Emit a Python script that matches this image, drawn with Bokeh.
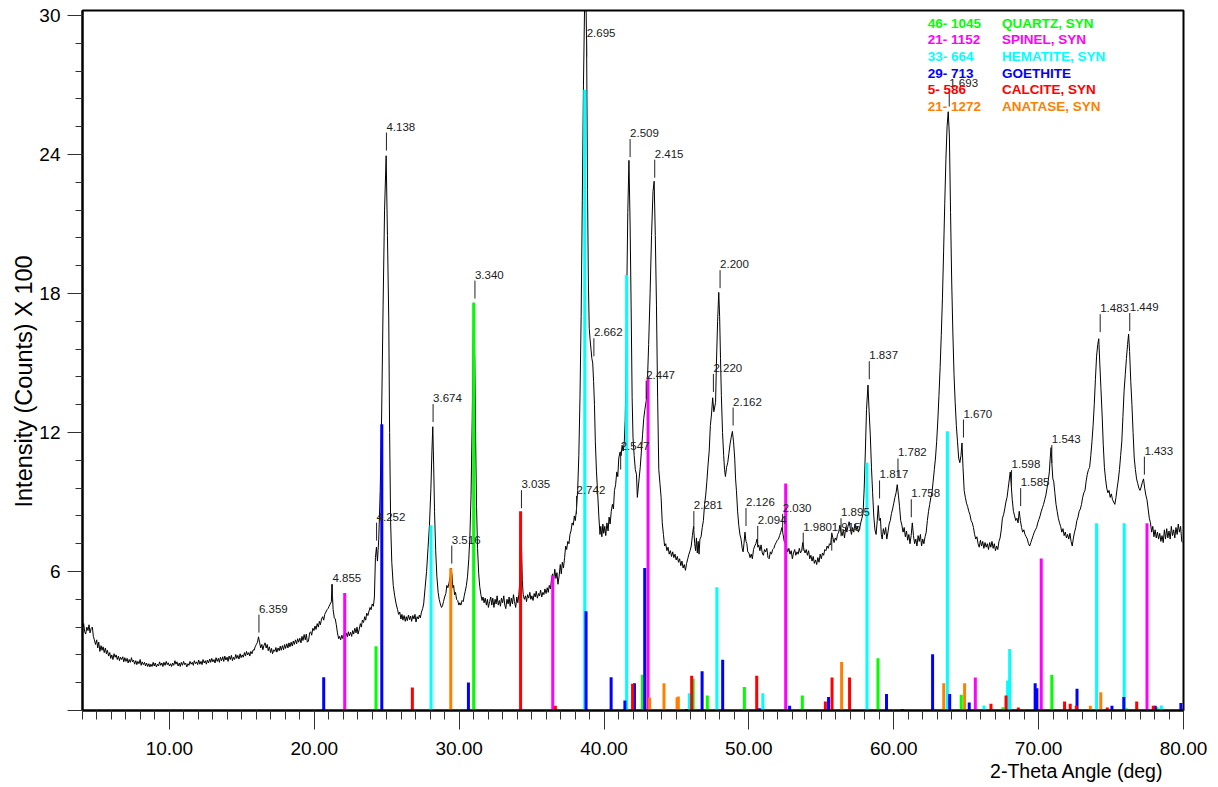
import math
from bokeh.plotting import figure
from bokeh.models import FixedTicker, PrintfTickFormatter, Title
from bokeh.core.properties import value
from bokeh.embed import file_html
from bokeh.resources import INLINE

FONT = "Liberation Sans"

# ---------------- measured pattern (2-theta, counts x100) ----------------
two_theta = [
 4.00,4.08,4.15,4.22,4.30,4.38,4.45,4.52,4.60,4.68,4.75,4.82,4.90,4.98,5.05,5.12,5.20,5.28,5.35,5.42,
 5.50,5.58,5.65,5.72,5.80,5.88,5.95,6.02,6.10,6.18,6.25,6.32,6.40,6.48,6.55,6.62,6.70,6.78,6.85,6.92,
 7.00,7.08,7.15,7.22,7.30,7.38,7.45,7.52,7.60,7.68,7.75,7.82,7.90,7.98,8.05,8.12,8.20,8.28,8.35,8.42,
 8.50,8.58,8.65,8.72,8.80,8.88,8.95,9.02,9.10,9.18,9.25,9.32,9.40,9.48,9.55,9.62,9.70,9.78,9.85,9.92,
 10.00,10.08,10.15,10.22,10.30,10.38,10.45,10.52,10.60,10.68,10.75,10.82,10.90,10.98,11.05,11.12,11.20,11.28,11.35,11.42,
 11.50,11.58,11.65,11.72,11.80,11.88,11.95,12.02,12.10,12.18,12.25,12.32,12.40,12.48,12.55,12.62,12.70,12.78,12.85,12.92,
 13.00,13.08,13.15,13.22,13.30,13.38,13.45,13.52,13.60,13.68,13.75,13.82,13.90,13.98,14.05,14.12,14.20,14.28,14.35,14.42,
 14.50,14.58,14.65,14.72,14.80,14.88,14.95,15.02,15.10,15.18,15.25,15.32,15.40,15.48,15.55,15.62,15.70,15.78,15.85,15.92,
 16.00,16.08,16.15,16.22,16.30,16.38,16.45,16.52,16.60,16.68,16.75,16.82,16.90,16.98,17.05,17.12,17.20,17.28,17.35,17.42,
 17.50,17.58,17.65,17.72,17.80,17.88,17.95,18.02,18.10,18.18,18.25,18.32,18.40,18.48,18.55,18.62,18.70,18.78,18.85,18.92,
 19.00,19.08,19.15,19.22,19.30,19.38,19.45,19.52,19.60,19.68,19.75,19.82,19.90,19.98,20.05,20.12,20.20,20.28,20.35,20.42,
 20.50,20.58,20.65,20.72,20.80,20.88,20.95,21.02,21.10,21.18,21.22,21.26,21.30,21.38,21.45,21.52,21.60,21.68,21.75,21.82,
 21.90,21.98,22.05,22.12,22.20,22.28,22.35,22.42,22.50,22.58,22.65,22.72,22.80,22.88,22.95,23.02,23.10,23.18,23.25,23.32,
 23.40,23.48,23.55,23.62,23.70,23.78,23.85,23.92,24.00,24.08,24.15,24.22,24.29,24.36,24.45,24.55,24.65,24.75,24.85,24.96,
 25.05,25.14,25.20,25.27,25.35,25.45,25.55,25.65,25.75,25.82,25.90,25.98,26.05,26.12,26.20,26.28,26.35,26.42,26.50,26.58,
 26.65,26.72,26.80,26.88,26.95,27.02,27.10,27.18,27.25,27.32,27.40,27.48,27.55,27.65,27.75,27.85,27.95,28.05,28.12,28.18,
 28.24,28.30,28.38,28.46,28.55,28.62,28.70,28.78,28.85,28.92,29.00,29.08,29.15,29.22,29.30,29.38,29.44,29.50,29.56,29.62,
 29.68,29.75,29.82,29.90,29.98,30.05,30.12,30.20,30.28,30.35,30.42,30.50,30.58,30.66,30.74,30.82,30.90,30.96,31.02,31.08,
 31.14,31.20,31.27,31.35,31.42,31.50,31.58,31.65,31.72,31.80,31.88,31.95,32.02,32.10,32.18,32.25,32.32,32.40,32.48,32.55,
 32.62,32.70,32.78,32.85,32.92,33.00,33.08,33.15,33.22,33.30,33.38,33.45,33.52,33.60,33.68,33.75,33.82,33.90,33.98,34.05,
 34.12,34.18,34.24,34.30,34.36,34.42,34.50,34.58,34.65,34.72,34.80,34.88,34.95,35.02,35.10,35.18,35.25,35.32,35.40,35.48,
 35.55,35.62,35.70,35.78,35.85,35.92,36.00,36.08,36.15,36.22,36.30,36.38,36.45,36.52,36.60,36.68,36.75,36.82,36.90,36.98,
 37.05,37.12,37.20,37.28,37.35,37.42,37.50,37.58,37.65,37.72,37.80,37.88,37.95,38.02,38.10,38.18,38.26,38.34,38.42,38.50,
 38.58,38.66,38.74,38.80,38.86,38.92,38.98,39.04,39.10,39.16,39.22,39.28,39.34,39.40,39.48,39.56,39.64,39.72,39.78,39.85,
 39.92,39.98,40.05,40.12,40.20,40.28,40.35,40.42,40.50,40.58,40.65,40.72,40.80,40.88,40.95,41.02,41.10,41.18,41.25,41.32,
 41.40,41.46,41.52,41.58,41.64,41.72,41.80,41.87,41.94,42.00,42.08,42.16,42.24,42.30,42.36,42.42,42.50,42.58,42.66,42.74,
 42.82,42.92,43.00,43.08,43.18,43.28,43.38,43.46,43.54,43.62,43.70,43.78,43.86,43.94,44.02,44.10,44.18,44.26,44.34,44.42,
 44.50,44.58,44.66,44.74,44.82,44.90,44.98,45.06,45.14,45.22,45.30,45.38,45.46,45.54,45.62,45.70,45.78,45.86,45.94,46.02,
 46.10,46.18,46.26,46.32,46.38,46.44,46.50,46.56,46.62,46.70,46.78,46.86,46.94,47.02,47.10,47.18,47.26,47.34,47.42,47.50,
 47.58,47.64,47.70,47.76,47.84,47.92,47.98,48.04,48.10,48.18,48.26,48.32,48.38,48.46,48.54,48.62,48.70,48.78,48.86,48.94,
 49.02,49.08,49.14,49.22,49.30,49.38,49.46,49.54,49.60,49.66,49.73,49.80,49.86,49.92,50.00,50.08,50.16,50.24,50.32,50.40,
 50.48,50.56,50.62,50.68,50.76,50.84,50.92,51.00,51.08,51.16,51.24,51.32,51.40,51.48,51.56,51.64,51.72,51.80,51.88,51.96,
 52.04,52.12,52.20,52.28,52.36,52.44,52.52,52.60,52.68,52.76,52.84,52.92,53.00,53.08,53.16,53.24,53.32,53.40,53.48,53.56,
 53.64,53.72,53.80,53.88,53.96,54.04,54.12,54.20,54.28,54.36,54.44,54.52,54.60,54.68,54.76,54.84,54.92,55.00,55.08,55.16,
 55.24,55.32,55.40,55.48,55.56,55.64,55.72,55.80,55.88,55.96,56.04,56.12,56.20,56.28,56.36,56.44,56.52,56.60,56.68,56.76,
 56.84,56.92,57.00,57.08,57.16,57.24,57.32,57.40,57.48,57.56,57.64,57.72,57.80,57.88,57.96,58.04,58.12,58.22,58.30,58.38,
 58.46,58.54,58.62,58.70,58.78,58.86,58.93,59.00,59.08,59.14,59.20,59.28,59.36,59.44,59.52,59.60,59.68,59.76,59.84,59.92,
 60.00,60.08,60.16,60.24,60.32,60.40,60.48,60.56,60.64,60.72,60.80,60.88,60.96,61.04,61.12,61.20,61.28,61.36,61.44,61.52,
 61.60,61.68,61.76,61.84,61.92,62.00,62.08,62.16,62.24,62.32,62.40,62.48,62.56,62.64,62.72,62.80,62.88,62.96,63.04,63.12,
 63.20,63.28,63.36,63.44,63.52,63.60,63.68,63.76,63.84,63.92,64.00,64.08,64.16,64.24,64.32,64.40,64.48,64.56,64.64,64.71,
 64.78,64.86,64.94,65.02,65.10,65.18,65.26,65.34,65.42,65.50,65.58,65.66,65.74,65.82,65.90,65.98,66.06,66.14,66.22,66.30,
 66.38,66.46,66.54,66.62,66.70,66.78,66.86,66.94,67.02,67.10,67.18,67.26,67.34,67.42,67.50,67.58,67.66,67.74,67.82,67.90,
 67.98,68.04,68.10,68.18,68.26,68.34,68.42,68.50,68.58,68.66,68.74,68.82,68.90,68.98,69.06,69.14,69.22,69.30,69.38,69.46,
 69.54,69.62,69.70,69.78,69.86,69.94,70.02,70.10,70.18,70.26,70.34,70.42,70.50,70.58,70.66,70.74,70.80,70.86,70.92,70.98,
 71.04,71.12,71.20,71.28,71.36,71.44,71.52,71.60,71.68,71.76,71.84,71.92,72.00,72.08,72.16,72.24,72.32,72.40,72.48,72.56,
 72.64,72.72,72.80,72.88,72.96,73.04,73.12,73.20,73.28,73.36,73.44,73.52,73.60,73.68,73.76,73.84,73.92,74.00,74.08,74.15,
 74.22,74.30,74.38,74.46,74.54,74.62,74.70,74.78,74.86,74.94,75.02,75.10,75.18,75.26,75.34,75.42,75.50,75.58,75.66,75.74,
 75.82,75.90,75.98,76.06,76.14,76.21,76.28,76.36,76.44,76.52,76.60,76.68,76.76,76.84,76.92,77.00,77.08,77.16,77.24,77.32,
 77.40,77.48,77.56,77.64,77.72,77.80,77.88,77.96,78.04,78.12,78.20,78.28,78.36,78.44,78.52,78.60,78.68,78.76,78.84,78.92,
 79.00,79.08,79.16,79.24,79.32,79.40,79.48,79.56,79.64,79.72,79.80,79.88,79.96,
]
counts = [
 3.55,3.75,3.40,3.30,3.60,3.45,3.70,3.35,3.55,3.60,3.20,3.05,2.85,3.05,2.70,2.95,2.55,2.80,2.60,2.75,
 2.50,2.70,2.45,2.60,2.35,2.50,2.25,2.40,2.20,2.45,2.30,2.40,2.20,2.35,2.15,2.30,2.20,2.32,2.10,2.28,
 2.12,2.25,2.05,2.20,2.08,2.28,2.10,2.18,2.00,2.15,1.98,2.12,2.02,2.20,1.95,2.10,1.98,2.08,1.92,2.05,
 1.90,2.02,1.88,2.00,1.90,2.08,1.92,2.05,1.88,2.00,1.92,2.10,1.95,2.05,1.90,2.08,1.95,2.12,1.98,2.06,
 1.92,2.02,1.90,2.05,1.95,2.15,2.00,2.10,1.92,2.05,1.90,2.08,1.95,2.12,1.98,2.05,1.88,2.02,1.95,2.12,
 2.00,2.08,1.95,2.15,2.02,2.10,1.98,2.18,2.00,2.12,1.98,2.20,2.05,2.15,2.00,2.18,2.05,2.22,2.08,2.25,
 2.10,2.20,2.05,2.28,2.12,2.25,2.08,2.30,2.15,2.32,2.12,2.35,2.18,2.30,2.12,2.35,2.20,2.38,2.15,2.30,
 2.20,2.42,2.25,2.38,2.22,2.45,2.28,2.40,2.30,2.50,2.35,2.55,2.40,2.50,2.35,2.55,2.45,2.62,2.60,2.75,
 2.85,2.95,3.18,2.95,2.70,2.85,2.62,2.80,2.92,2.70,2.85,2.58,2.75,2.50,2.68,2.45,2.62,2.55,2.72,2.52,
 2.70,2.58,2.78,2.60,2.80,2.62,2.85,2.68,2.88,2.70,2.92,2.75,2.95,2.78,3.00,2.85,3.05,2.88,3.10,2.95,
 3.12,2.92,3.20,3.02,3.28,3.05,3.30,2.95,3.00,3.35,3.40,3.25,3.55,3.45,3.65,3.50,3.75,3.60,3.85,3.70,
 3.95,4.05,3.90,4.15,4.25,4.35,4.40,4.50,4.60,4.70,5.45,4.90,4.35,4.00,3.95,3.70,3.35,3.10,3.20,3.05,
 3.25,3.10,3.30,3.12,3.35,3.18,3.40,3.22,3.38,3.20,3.45,3.30,3.55,3.35,3.60,3.30,3.50,3.75,3.60,3.90,
 3.80,4.05,3.90,4.20,4.10,4.30,4.45,4.35,4.60,4.50,4.90,6.60,7.05,6.45,7.40,9.50,12.80,17.50,21.60,23.95,
 20.50,16.90,12.00,8.10,6.40,5.40,4.95,4.60,4.35,4.15,4.25,3.95,4.15,3.90,4.10,3.85,4.05,3.88,4.12,3.92,
 4.08,3.85,4.10,3.95,4.15,3.82,4.05,3.95,4.12,4.00,4.25,4.40,4.60,5.30,6.00,7.00,8.00,9.60,11.20,12.25,
 10.60,8.60,6.90,5.80,5.10,4.80,4.60,4.45,4.52,4.70,4.90,5.05,5.40,5.30,5.50,5.80,6.15,5.90,5.30,5.40,
 5.00,5.10,4.80,4.75,4.55,4.65,4.55,4.75,4.70,4.95,5.15,5.40,5.80,6.50,7.50,9.30,12.50,15.80,17.60,15.20,
 11.60,8.80,7.00,5.90,5.35,5.00,4.75,4.90,4.65,4.85,4.55,4.80,4.45,4.70,4.90,4.55,4.85,4.45,4.80,4.60,
 4.95,4.55,4.75,4.50,4.85,4.65,4.95,4.55,4.40,4.80,4.60,4.90,4.50,4.85,4.60,5.00,4.70,4.45,4.90,4.65,
 5.00,5.50,8.55,7.20,5.60,5.00,4.80,4.95,4.70,5.00,4.85,5.10,4.80,4.95,4.75,5.05,4.90,5.15,4.85,5.05,
 4.95,5.20,4.90,5.10,5.00,5.25,5.05,5.30,5.10,5.40,5.25,5.70,5.90,5.60,6.10,5.70,5.95,5.45,5.80,6.30,
 5.90,6.40,6.15,6.60,7.10,6.95,7.30,7.20,7.60,7.75,8.10,8.00,8.40,8.20,8.70,9.50,11.00,13.50,17.00,22.00,
 27.00,30.50,31.50,28.50,22.50,18.50,16.50,16.00,15.60,15.20,15.00,14.20,13.20,11.60,10.30,9.40,8.40,7.60,7.95,7.50,
 8.05,7.65,7.95,7.55,8.10,7.75,8.35,8.05,8.60,8.90,8.70,9.50,9.75,10.30,10.10,10.90,11.15,11.00,11.45,11.20,
 11.60,12.50,15.00,18.50,21.50,23.75,21.00,17.50,13.50,11.80,11.00,10.40,10.20,9.20,9.60,10.00,10.50,11.20,11.90,12.60,
 13.00,13.40,14.30,15.80,18.00,20.50,22.40,22.85,20.50,17.50,13.50,10.40,9.80,9.20,8.10,7.60,7.10,7.20,6.90,7.05,
 6.75,6.90,6.65,6.85,6.60,6.75,6.50,6.65,6.40,6.55,6.25,6.45,6.15,6.30,6.05,6.35,6.55,6.75,6.90,7.10,
 7.55,7.95,7.20,6.90,7.45,6.80,7.30,6.75,7.40,7.50,7.90,8.20,8.90,9.30,9.90,10.60,11.20,12.30,12.80,13.50,
 12.90,13.10,13.30,15.00,16.80,18.05,17.00,15.20,13.60,12.00,11.00,10.40,10.10,10.50,10.70,11.10,11.50,11.80,12.05,11.60,
 10.90,10.00,9.50,8.60,8.00,7.60,7.40,7.00,6.85,7.20,7.70,7.30,7.20,6.85,6.80,6.60,6.75,6.55,6.95,7.10,
 7.20,7.40,7.05,7.15,6.90,7.15,6.80,6.70,6.95,6.85,7.00,6.60,6.55,6.85,6.75,6.95,7.00,7.15,7.25,7.35,
 7.40,7.55,7.70,7.90,7.60,7.30,7.20,7.05,6.85,7.00,6.75,6.90,6.55,6.80,6.95,6.70,6.85,6.75,7.00,6.80,
 6.90,7.25,6.95,6.80,6.95,6.70,6.90,6.55,6.70,6.45,6.65,6.35,6.50,6.30,6.60,6.40,6.75,6.55,6.80,6.70,
 6.95,6.90,7.10,7.00,7.20,7.15,7.65,7.45,7.25,7.45,7.35,7.60,7.70,8.00,7.70,7.55,7.80,7.45,7.90,7.70,
 7.95,8.15,7.85,7.60,7.90,7.70,8.05,7.80,7.95,7.70,7.85,8.10,8.30,8.50,9.60,11.20,13.00,14.05,12.90,11.90,
 10.50,9.40,8.40,7.80,7.60,8.20,8.85,8.20,8.30,7.60,7.40,7.85,7.60,7.90,7.40,7.70,8.05,8.20,8.50,8.70,
 8.95,9.20,9.40,9.75,9.30,8.80,8.20,8.00,7.70,7.90,7.50,7.75,7.35,7.60,7.20,7.55,8.10,7.55,7.20,7.40,
 7.10,7.55,7.30,7.60,7.10,7.40,7.20,7.50,7.70,8.20,8.60,8.90,9.20,9.40,9.90,10.40,10.90,11.60,12.50,13.60,
 14.80,16.20,17.80,19.80,21.90,23.80,25.20,25.85,24.80,21.50,18.50,16.30,14.50,13.30,12.30,11.60,10.90,10.70,11.00,11.55,
 10.50,9.50,9.20,8.95,8.80,8.60,8.45,8.20,8.10,7.90,7.60,7.40,7.50,7.20,7.05,7.35,7.10,7.30,7.00,7.25,
 7.05,7.20,6.95,7.25,7.05,7.30,7.00,7.20,6.90,7.10,6.95,7.30,7.45,7.80,8.30,8.45,8.70,9.00,9.20,9.60,
 10.00,10.30,9.80,9.10,8.60,8.40,8.20,8.30,8.10,8.60,8.20,7.90,7.70,7.80,7.60,7.50,7.40,7.20,7.10,7.25,
 7.40,7.55,7.70,7.80,7.90,8.10,8.25,8.40,8.60,8.75,8.90,9.10,9.30,9.60,9.90,10.30,10.90,11.35,10.60,10.00,
 9.90,9.40,8.90,8.60,8.30,8.10,7.95,7.70,7.85,7.55,7.70,7.45,7.60,7.40,7.65,7.30,7.10,7.45,7.70,7.90,
 8.20,8.35,8.60,8.70,8.90,9.20,9.40,9.50,9.90,10.20,10.40,10.50,11.00,11.60,12.30,13.20,14.30,15.30,15.80,16.05,
 15.00,13.90,12.80,11.50,10.50,10.00,9.60,9.40,9.50,9.20,9.35,9.10,9.00,8.90,9.20,9.60,9.95,10.40,11.00,11.60,
 12.70,13.80,14.50,15.20,15.80,16.25,15.50,14.20,13.20,12.00,10.90,10.40,10.00,9.80,9.60,9.50,9.65,9.85,10.00,9.60,
 9.30,9.10,8.70,8.30,8.10,7.70,7.95,7.50,7.80,7.45,7.70,7.40,7.65,7.30,7.55,7.25,7.80,7.40,7.85,7.45,
 7.75,7.40,7.95,7.55,7.80,7.45,7.90,7.60,8.05,7.70,7.95,7.30,7.25,
]

# ---------------- reference cards: stick positions (2-theta) and heights ----------------
quartz_pos = [24.26, 31.00, 42.65, 46.15, 47.13, 49.69, 53.69, 58.91, 64.66, 67.54, 70.91, 76.05, 78.17]
quartz_int = [2.77, 17.60, 1.54, 1.37, 0.65, 1.01, 0.65, 2.26, 0.68, 0.14, 1.54, 0.10, 0.14]

spinel_pos = [22.10, 36.46, 43.04, 52.54, 65.63, 70.18, 77.48]
spinel_int = [5.07, 5.84, 14.40, 9.80, 1.43, 6.56, 8.08]

hematite_pos = [28.06, 38.67, 41.56, 45.89, 47.79, 50.96, 58.15, 63.70, 66.23, 67.86, 68.00, 74.00, 75.91, 78.47]
hematite_int = [8.00, 26.80, 18.80, 0.75, 5.32, 0.75, 10.70, 12.06, 0.22, 1.30, 2.65, 8.08, 8.08, 0.22]

goethite_pos = [20.65, 24.66, 30.64, 38.76, 40.49, 41.44, 42.10, 42.81, 45.67, 46.77, 48.19, 50.72, 52.81,
                55.50, 59.50, 60.59, 62.68, 63.86, 65.21, 69.76, 69.88, 72.65, 75.06, 75.88, 78.05, 79.82]
goethite_int = [1.44, 12.36, 1.21, 4.28, 1.44, 0.43, 1.18, 6.15, 0.07, 1.69, 2.19, 0.10, 0.20,
                0.58, 0.71, 0.07, 2.43, 0.71, 0.35, 1.18, 0.96, 0.94, 0.20, 0.58, 0.20, 0.32]

calcite_pos = [26.77, 34.24, 36.64, 41.97, 46.05, 50.54, 55.28, 55.74, 56.95, 66.71, 67.75, 68.60,
               71.79, 72.18, 72.60, 74.74, 76.77, 77.91]
calcite_int = [0.99, 8.60, 0.20, 1.15, 1.50, 1.50, 0.39, 1.43, 1.43, 0.29, 0.65, 0.13,
               0.39, 0.29, 0.20, 0.13, 0.39, 0.20]

anatase_pos = [29.42, 43.15, 44.14, 45.04, 45.13, 56.40, 63.45, 64.89, 73.57, 74.29]
anatase_int = [6.14, 0.56, 1.18, 0.56, 0.60, 2.09, 1.18, 1.18, 0.20, 0.79]

# ---------------- peak annotations (d-spacing labels) ----------------
peak_labels = ["6.359", "4.855", "4.252", "4.138", "3.674", "3.516", "3.340", "3.035", "2.742", "2.695",
               "2.662", "2.547", "2.509", "2.447", "2.415", "2.281", "2.220", "2.200", "2.162", "2.126",
               "2.094", "2.030", "1.980", "1.915", "1.895", "1.837", "1.817", "1.782", "1.758", "1.693",
               "1.670", "1.598", "1.585", "1.543", "1.483", "1.449", "1.433"]
peak_pos = [16.18, 21.25, 24.30, 24.98, 28.20, 29.49, 31.09, 34.30, 38.10, 38.80,
            39.30, 41.15, 41.80, 42.91, 43.50, 46.20, 47.55, 48.01, 48.91, 49.80,
            50.61, 52.33, 53.75, 55.72, 56.36, 58.31, 59.02, 60.29, 61.21, 63.83,
            64.81, 68.13, 68.76, 70.91, 74.25, 76.29, 77.30]
peak_int = [3.19, 4.49, 7.16, 24.00, 12.28, 6.17, 17.61, 8.56, 8.31, 28.05,
            15.12, 10.23, 23.72, 13.29, 22.83, 7.66, 13.58, 18.06, 12.13, 7.79,
            7.02, 7.54, 6.73, 6.73, 7.35, 14.13, 8.98, 9.93, 8.17, 25.90,
            11.61, 9.43, 8.65, 10.51, 16.16, 16.21, 10.01]

card_codes = ["46- 1045", "21- 1152", "33- 664", "29- 713", "5- 586", "21- 1272"]
card_names = ["QUARTZ, SYN", "SPINEL, SYN", "HEMATITE, SYN", "GOETHITE", "CALCITE, SYN", "ANATASE, SYN"]
card_colors = ["#00ff00", "#ff00ff", "#00ffff", "#0000ff", "#ff0000", "#ff8000"]

x_major = [10, 20, 30, 40, 50, 60, 70, 80]
y_major = [0, 6, 12, 18, 24, 30]

# ---------------- figure ----------------
p = figure(width=1210, height=785, x_range=(4, 80), y_range=(0, 30.22),
           output_backend="svg", toolbar_location=None,
           min_border_left=82, min_border_right=27, min_border_top=10, min_border_bottom=75)
p.xgrid.visible = False
p.ygrid.visible = False
p.outline_line_color = "black"
p.outline_line_width = 2
p.background_fill_color = "white"
p.border_fill_color = "white"

# axes
p.xaxis.ticker = FixedTicker(ticks=x_major, minor_ticks=list(range(4, 81)))
p.xaxis.formatter = PrintfTickFormatter(format="%.2f")
p.yaxis.ticker = FixedTicker(ticks=y_major, minor_ticks=[round(1.2 * i, 2) for i in range(26)])
p.yaxis.major_label_overrides = {0: ""}
for ax in (p.xaxis[0], p.yaxis[0]):
    ax.axis_line_color = "black"
    ax.axis_line_width = 2
    ax.major_tick_line_color = "#303030"
    ax.minor_tick_line_color = "#303030"
    ax.major_tick_line_width = 1
    ax.minor_tick_line_width = 1
    ax.major_tick_in = 0
    ax.minor_tick_in = 0
    ax.major_label_text_font = FONT
    ax.major_label_text_font_size = "19px"
    ax.major_label_text_color = "black"
p.xaxis.major_tick_out = 19
p.xaxis.minor_tick_out = 9
p.xaxis.major_label_standoff = 12
p.yaxis.major_tick_out = 15
p.yaxis.minor_tick_out = 7
p.yaxis.major_label_standoff = 7

# measured pattern
p.line(two_theta, counts, line_color="black", line_width=1)

# reference sticks
cards = [(quartz_pos, quartz_int), (spinel_pos, spinel_int), (hematite_pos, hematite_int),
         (goethite_pos, goethite_int), (calcite_pos, calcite_int), (anatase_pos, anatase_int)]
for (pos, inten), col in zip(cards, card_colors):
    p.segment(x0=pos, y0=[0] * len(pos), x1=pos, y1=inten, line_color=col, line_width=3)

# peak markers and d-spacing labels
px_per_unit = 700 / 30.22
tick_y0 = [v + 4 / px_per_unit for v in peak_int]
tick_y1 = [v + 22 / px_per_unit for v in peak_int]
text_y = [v + 28 / px_per_unit for v in peak_int]
p.segment(x0=peak_pos, y0=tick_y0, x1=peak_pos, y1=tick_y1, line_color="#202020", line_width=1)
p.text(x=peak_pos, y=text_y, text=peak_labels, text_font=value(FONT), text_font_size="11.5px",
       text_color="#202020", text_align="left", text_baseline="alphabetic")

# card legend (top right)
rows_y = [29.66 - 0.713 * i for i in range(len(card_codes))]
p.text(x=[62.34] * len(card_codes), y=rows_y, text=card_codes, text_color=card_colors,
       text_font=value(FONT), text_font_size="13.5px", text_font_style="bold",
       text_align="left", text_baseline="middle")
p.text(x=[67.47] * len(card_names), y=rows_y, text=card_names, text_color=card_colors,
       text_font=value(FONT), text_font_size="13.5px", text_font_style="bold",
       text_align="left", text_baseline="middle")

# axis titles
p.add_layout(Title(text="Intensity (Counts) X 100", align="left", offset=203, standoff=0,
                   text_font=FONT, text_font_size="23.5px", text_font_style="normal",
                   text_color="black"), "left")
p.add_layout(Title(text="2-Theta Angle (deg)", align="right", offset=20, standoff=0,
                   text_font=FONT, text_font_size="19.5px", text_font_style="normal",
                   text_color="black"), "below")

open("out.html", "w").write(file_html(p, INLINE))
